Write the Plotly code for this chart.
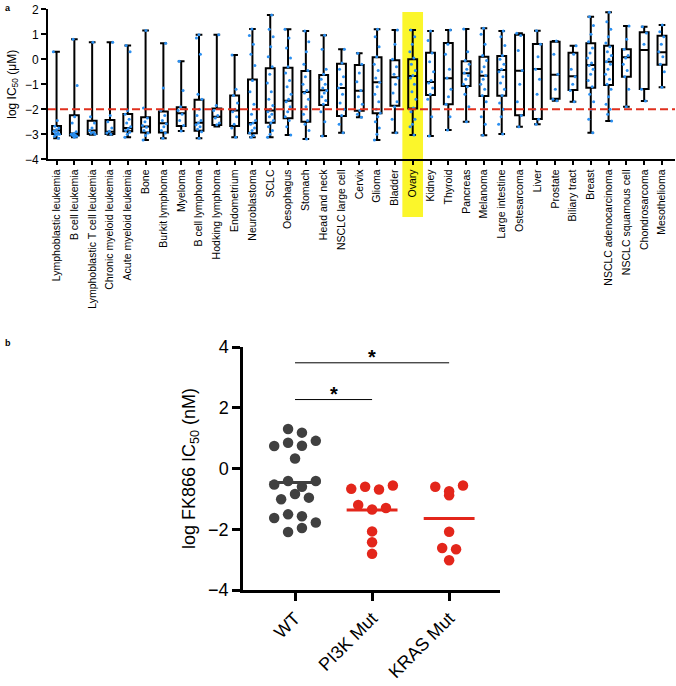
import numpy as np
import plotly.graph_objects as go

# ---------------- Panel a data ----------------
cancer_types = [
    "Lymphoblastic leukemia", "B cell leukemia", "Lymphoblastic T cell leukemia",
    "Chronic myeloid leukemia", "Acute myeloid leukemia", "Bone", "Burkit lymphoma",
    "Myeloma", "B cell lymphoma", "Hodking lymphoma", "Endometrium", "Neuroblastoma",
    "SCLC", "Oesophagus", "Stomach", "Head and neck", "NSCLC large cell", "Cervix",
    "Glioma", "Bladder", "Ovary", "Kidney", "Thyroid", "Pancreas", "Melanoma",
    "Large intestine", "Ostesarcoma", "Liver", "Prostate", "Biliary tract", "Breast",
    "NSCLC adenocarcinoma", "NSCLC squamous cell", "Chondrosarcoma", "Mesothelioma",
]
box_max = [0.30, 0.80, 0.68, 0.68, 0.55, 1.15, 0.64, -0.08, 0.98, 0.98, 0.17, 1.21,
           1.77, 1.20, 1.13, 0.96, 0.40, 0.24, 1.20, 1.17, 1.17, 1.13, 1.17, 1.21, 1.24,
           1.13, 1.04, 1.14, 0.73, 0.54, 1.70, 1.88, 1.33, 1.30, 1.37]
box_q3 = [-2.67, -2.24, -2.46, -2.43, -2.19, -2.32, -2.09, -1.92, -1.62, -1.97, -1.45, -0.81,
          -0.36, -0.34, -0.47, -0.63, -0.18, -0.23, 0.08, -0.04, 0.00, 0.26, 0.65, -0.08, 0.10,
          0.13, 0.98, 0.61, 0.70, 0.26, 0.64, 0.54, 0.40, 1.08, 0.94]
box_median = [-2.85, -2.97, -2.85, -2.90, -2.75, -2.69, -2.56, -2.16, -2.54, -2.30, -2.05, -2.55,
              -2.05, -1.66, -1.31, -1.24, -1.15, -1.26, -0.92, -0.72, -0.67, -0.91, -0.76, -0.56,
              -0.66, -0.43, -0.46, -0.39, -0.62, -0.68, -0.23, -0.10, 0.08, 0.37, 0.28]
box_q1 = [-2.99, -3.05, -2.99, -2.99, -2.88, -2.93, -2.93, -2.67, -2.86, -2.63, -2.67, -2.96,
          -2.54, -2.36, -2.50, -1.83, -2.27, -2.06, -2.16, -1.86, -1.97, -1.43, -1.80, -1.07,
          -1.47, -1.46, -2.24, -2.39, -1.58, -1.23, -1.14, -1.03, -0.70, -1.19, -0.22]
box_min = [-3.16, -3.12, -3.02, -3.02, -3.12, -3.23, -3.16, -2.87, -3.16, -2.69, -3.12, -3.12,
           -3.12, -3.03, -3.19, -3.07, -2.94, -2.32, -3.23, -2.94, -3.03, -3.07, -2.83, -2.50,
           -3.04, -2.99, -2.70, -2.60, -1.66, -1.70, -2.94, -2.47, -1.90, -1.67, -1.12]

cell_line_values = [
    [0.30, -2.45, -2.68, -2.75, -2.82, -2.88, -2.93, -2.97, -3.00, -3.02, -3.08, -3.16],
    [0.80, -1.05, -2.30, -2.55, -2.90, -2.97, -3.00, -3.03, -3.05, -3.08, -3.12],
    [0.68, -2.30, -2.55, -2.75, -2.85, -2.92, -2.96, -3.00],
    [0.68, -2.25, -2.50, -2.75, -2.88, -2.95, -3.00],
    [0.55, 0.30, -2.05, -2.20, -2.40, -2.55, -2.70, -2.78, -2.85, -2.92, -3.00, -3.12],
    [1.15, -1.95, -2.35, -2.50, -2.65, -2.72, -2.85, -2.95, -3.05, -3.23],
    [0.64, -1.15, -2.05, -2.25, -2.45, -2.58, -2.70, -2.85, -2.95, -3.16],
    [-0.08, -1.25, -1.90, -2.05, -2.20, -2.45, -2.65, -2.87],
    [0.98, 0.85, 0.20, -1.40, -1.60, -2.00, -2.25, -2.45, -2.55, -2.62, -2.70, -2.80, -2.90, -3.16],
    [0.98, -1.85, -2.05, -2.25, -2.35, -2.55, -2.62],
    [0.17, -1.20, -1.45, -1.75, -2.00, -2.10, -2.30, -2.60, -2.75, -3.12],
    [1.21, 0.95, 0.60, 0.20, -0.25, -0.85, -1.30, -1.80, -2.20, -2.45, -2.55, -2.60, -2.75, -2.85, -2.95, -3.05, -3.12],
    [1.77, 1.20, 0.90, 0.50, 0.10, -0.30, -0.60, -0.95, -1.30, -1.60, -1.85, -2.00, -2.10, -2.20, -2.30, -2.45, -2.55, -2.70, -2.85, -3.00, -3.12],
    [1.20, 0.85, 0.45, 0.05, -0.30, -0.55, -0.85, -1.10, -1.40, -1.60, -1.70, -1.90, -2.10, -2.30, -2.45, -2.70, -3.03],
    [1.13, 0.70, 0.30, -0.20, -0.45, -0.70, -1.00, -1.25, -1.35, -1.60, -1.90, -2.20, -2.45, -2.60, -2.85, -3.19],
    [0.96, 0.40, -0.40, -0.60, -0.80, -1.00, -1.15, -1.25, -1.35, -1.50, -1.65, -1.80, -2.10, -2.50, -3.07],
    [0.40, -0.15, -0.40, -0.70, -1.00, -1.15, -1.40, -1.75, -2.00, -2.25, -2.60, -2.94],
    [0.24, -0.20, -0.55, -0.90, -1.25, -1.50, -1.80, -2.05, -2.20, -2.32],
    [1.20, 0.90, 0.50, 0.10, -0.20, -0.45, -0.75, -0.92, -1.10, -1.40, -1.70, -2.00, -2.15, -2.30, -2.50, -2.75, -3.00, -3.23],
    [1.17, 0.60, 0.00, -0.30, -0.60, -0.75, -1.00, -1.35, -1.70, -1.90, -2.40, -2.94],
    [1.17, 0.90, 0.60, 0.30, 0.05, -0.20, -0.45, -0.65, -0.75, -1.00, -1.30, -1.60, -1.95, -2.10, -2.40, -2.60, -2.70, -3.03],
    [1.13, 0.75, 0.25, -0.10, -0.50, -0.85, -0.95, -1.15, -1.40, -1.60, -2.30, -3.07],
    [1.17, 0.60, 0.20, -0.40, -0.75, -1.20, -1.50, -1.80, -2.30, -2.83],
    [1.21, 0.30, -0.05, -0.20, -0.40, -0.55, -0.65, -0.80, -1.00, -1.10, -1.40, -1.90, -2.50],
    [1.24, 1.00, 0.60, 0.15, -0.05, -0.30, -0.50, -0.65, -0.80, -1.00, -1.20, -1.45, -1.70, -2.00, -2.30, -2.60, -3.04],
    [1.13, 0.90, 0.55, 0.15, 0.00, -0.20, -0.40, -0.50, -0.70, -0.95, -1.20, -1.45, -1.75, -2.00, -2.30, -2.60, -2.99],
    [1.04, 0.95, 0.35, -0.45, -1.00, -1.70, -2.25, -2.70],
    [1.14, 0.60, 0.10, -0.40, -0.80, -1.40, -2.00, -2.40, -2.60],
    [0.73, 0.20, -0.60, -1.20, -1.60, -1.66],
    [0.54, 0.20, -0.40, -0.70, -1.00, -1.25, -1.70],
    [1.70, 1.35, 1.00, 0.70, 0.45, 0.25, 0.05, -0.15, -0.25, -0.40, -0.60, -0.85, -1.10, -1.40, -1.70, -2.00, -2.40, -2.94],
    [1.88, 1.50, 1.20, 0.90, 0.65, 0.50, 0.30, 0.15, 0.00, -0.10, -0.20, -0.40, -0.60, -0.80, -1.00, -1.20, -1.50, -1.80, -2.00, -2.20, -2.47],
    [1.33, 0.80, 0.40, 0.15, 0.05, -0.20, -0.45, -0.70, -1.20, -1.90],
    [1.30, 1.05, 0.60, -1.20, -1.67],
    [1.37, 1.10, 0.90, 0.60, 0.30, 0.10, -0.20, -0.50, -1.12],
]
threshold_a = -2.0
highlight = "Ovary"

# ---------------- Panel b data ----------------
groups = ["WT", "PI3K Mut", "KRAS Mut"]
wt_values = [1.30, 1.18, 0.74, 0.85, 0.75, 0.91, 0.33, -0.53, -0.41, -0.60, -0.41,
             -1.01, -0.84, -0.96, -1.63, -1.51, -1.57, -1.78, -2.09, -1.96]
pi3k_values = [-0.67, -0.60, -0.69, -0.56, -1.20, -1.35, -1.30, -2.07, -2.43, -2.81]
kras_values = [-0.60, -0.88, -0.75, -0.56, -2.08, -2.62, -2.66, -3.02]
sig_pairs = [(0, 1), (0, 2)]
sig_heights = [2.27, 3.48]

# ---------------- Layout geometry (pixels) ----------------
W, H = 676, 686
def px(x):
    return x / W
def py(y):
    return 1 - y / H

fig = go.Figure()

n = len(cancer_types)
idx = list(range(n))

# boxes
fig.add_trace(go.Box(
    x=idx, q1=box_q1, median=box_median, q3=box_q3,
    lowerfence=box_min, upperfence=box_max,
    width=0.5, whiskerwidth=0.75, boxpoints=False,
    fillcolor="rgba(255,255,255,0)",
    line=dict(color="black", width=2),
    xaxis="x", yaxis="y", showlegend=False, hoverinfo="skip",
))

# cell line dots (deterministic spread within box)
dx, dy = [], []
for i, vals in enumerate(cell_line_values):
    for k, v in enumerate(vals):
        frac = ((k * 0.618034 + i * 0.31) % 1.0) - 0.5
        dx.append(i + frac * 0.36)
        dy.append(v)
fig.add_trace(go.Scatter(
    x=dx, y=dy, mode="markers",
    marker=dict(color="#2b8ff0", size=3),
    xaxis="x", yaxis="y", showlegend=False, hoverinfo="skip",
))

# ---------------- Panel b ----------------
def row_offsets(values, thresh=0.3, step=0.18):
    order = sorted(range(len(values)), key=lambda i: -values[i])
    rows = []
    for i in order:
        if rows and values[rows[-1][0]] - values[i] <= thresh:
            rows[-1].append(i)
        else:
            rows.append([i])
    offs = [0.0] * len(values)
    for r in rows:
        r = sorted(r)
        m = len(r)
        for k, i in enumerate(r):
            offs[i] = (k - (m - 1) / 2) * step
    return offs

colors_b = ["#404040", "#e3261b", "#e3261b"]
for g, vals in enumerate([wt_values, pi3k_values, kras_values]):
    offs = row_offsets(vals)
    fig.add_trace(go.Scatter(
        x=[g + o for o in offs], y=vals, mode="markers",
        marker=dict(color=colors_b[g], size=10.5, line=dict(width=0)),
        xaxis="x2", yaxis="y2", showlegend=False, hoverinfo="skip",
    ))
    m = float(np.mean(vals))
    fig.add_trace(go.Scatter(
        x=[g - 0.33, g + 0.33], y=[m, m], mode="lines",
        line=dict(color=colors_b[g], width=3),
        xaxis="x2", yaxis="y2", showlegend=False, hoverinfo="skip",
    ))

shapes = []
annotations = []
# highlight Ovary
hi = cancer_types.index(highlight)
shapes.append(dict(type="rect", xref="x", yref="paper",
                   x0=hi - 0.58, x1=hi + 0.58, y0=py(217), y1=py(12),
                   fillcolor="#fbf62b", line=dict(width=0), layer="below"))
# threshold line
shapes.append(dict(type="line", xref="x domain", yref="y", x0=0, x1=1,
                   y0=threshold_a, y1=threshold_a,
                   line=dict(color="#e0301e", width=2, dash="8px,4px")))
for (a, b), h in zip(sig_pairs, sig_heights):
    shapes.append(dict(type="line", xref="x2", yref="y2", x0=a, x1=b, y0=h, y1=h,
                       line=dict(color="black", width=1)))
    annotations.append(dict(x=(a + b) / 2, y=h, xref="x2", yref="y2", text="<b>*</b>",
                            showarrow=False, yanchor="bottom", yshift=-7,
                            font=dict(size=20, color="black", family="Liberation Sans, Arial")))

annotations.append(dict(x=px(3), y=py(1), xref="paper", yref="paper", text="<b>a</b>",
                        showarrow=False, xanchor="left", yanchor="top",
                        font=dict(size=9, color="black")))
annotations.append(dict(x=px(3), y=py(336), xref="paper", yref="paper", text="<b>b</b>",
                        showarrow=False, xanchor="left", yanchor="top",
                        font=dict(size=9, color="black")))

axis_common = dict(showgrid=False, zeroline=False, showline=True, linecolor="black",
                   ticks="outside", tickcolor="black")

fig.update_layout(
    width=W, height=H,
    margin=dict(l=0, r=0, t=0, b=0, autoexpand=False),
    paper_bgcolor="white", plot_bgcolor="rgba(0,0,0,0)",
    font=dict(family="Liberation Sans, Arial, sans-serif", color="black"),
    xaxis=dict(axis_common, domain=[px(48), px(675)], anchor="y",
               range=[-0.48, n - 1 + 0.73], tickvals=idx, ticktext=cancer_types,
               tickangle=-90, ticklen=4, tickwidth=1.5, linewidth=2,
               tickfont=dict(size=10.5)),
    yaxis=dict(axis_common, domain=[py(159.3), py(9.3)], anchor="x",
               range=[-4, 2], dtick=1, ticklen=5, tickwidth=2, linewidth=2,
               tickfont=dict(size=12),
               title=dict(text="log IC<sub>50</sub> (μM)", font=dict(size=12), standoff=6)),
    xaxis2=dict(axis_common, domain=[px(243), px(500)], anchor="y2",
                range=[-0.675, 2.66], tickvals=[0, 1, 2], ticktext=groups,
                tickangle=-45, ticklen=8, tickwidth=2.5, linewidth=2.5,
                tickfont=dict(size=18)),
    yaxis2=dict(axis_common, domain=[py(590), py(347)], anchor="x2",
                range=[-4, 4], tickvals=[-4, -2, 0, 2, 4], ticklen=8, tickwidth=2.5,
                linewidth=2.5, tickfont=dict(size=18),
                title=dict(text="log FK866 IC<sub>50</sub> (nM)", font=dict(size=18), standoff=8)),
    shapes=shapes,
    annotations=annotations,
)

fig.write_html("out.html")
